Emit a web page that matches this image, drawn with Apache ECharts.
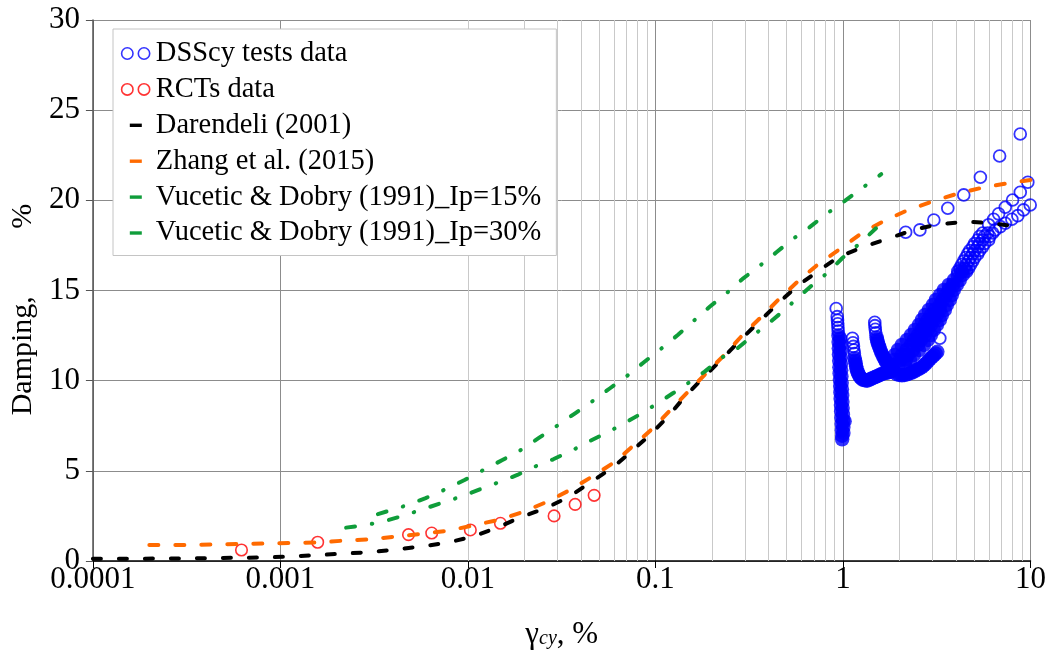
<!DOCTYPE html>
<html>
<head>
<meta charset="utf-8">
<script src="https://cdn.jsdelivr.net/npm/echarts@6/dist/echarts.min.js"></script>
<style>
html,body{margin:0;padding:0;background:#fff;}
#chart{width:1049px;height:655px;}
</style>
</head>
<body>
<div id="chart"></div>
<script>
// ---- data (x = shear strain gamma_cy in %, y = damping in %) ----
const xTickLabels = ['0.0001', '0.001', '0.01', '0.1', '1', '10'];
const yTickMin = 0, yTickMax = 30, yTickStep = 5;
const minorGridX = [
  0.0002, 0.0003, 0.0004, 0.0005, 0.0006, 0.0007, 0.0008, 0.0009,
  0.002, 0.003, 0.004, 0.005, 0.006, 0.007, 0.008, 0.009,
  0.02, 0.03, 0.04, 0.05, 0.06, 0.07, 0.08, 0.09,
  0.2, 0.3, 0.4, 0.5, 0.6, 0.7, 0.8, 0.9,
  2, 3, 4, 5, 6, 7, 8, 9
];

const darendeli = [
  [0.0001,0.13],[0.000176,0.13],[0.000316,0.14],[0.000439,0.16],[0.000604,0.18],[0.000841,0.2],
  [0.00117,0.26],[0.00159,0.33],[0.00216,0.41],[0.00293,0.48],[0.00412,0.63],[0.0056,0.8],
  [0.00779,1.02],[0.01058,1.35],[0.01437,1.85],[0.01904,2.42],[0.02585,2.92],[0.03424,3.53],
  [0.04481,4.34],[0.05937,5.2],[0.07584,6.15],[0.09337,6.99],[0.1164,8.0],[0.1433,9.11],
  [0.1764,10.08],[0.2281,11.24],[0.2773,12.16],[0.35,13.18],[0.4416,14.2],[0.5641,15.21],
  [0.7294,16.04],[0.9546,16.88],[1.296,17.43],[1.76,17.9],[2.449,18.4],[3.245,18.67],
  [4.515,18.82],[6.206,18.73],[8.636,18.54],[9.18,18.5]
];

const zhang = [
  [0.0002,0.89],[0.000304,0.89],[0.000439,0.92],[0.000604,0.94],[0.000841,0.98],[0.00114,1.0],
  [0.00159,1.03],[0.00218,1.13],[0.00296,1.2],[0.00412,1.35],[0.0056,1.5],[0.00779,1.68],
  [0.01058,1.96],[0.01437,2.27],[0.0195,2.7],[0.02649,3.29],[0.0351,3.94],[0.04593,4.68],
  [0.06085,5.5],[0.09687,7.36],[0.1193,8.34],[0.1523,9.48],[0.1898,10.5],[0.2395,11.55],
  [0.2913,12.53],[0.3721,13.6],[0.4694,14.66],[0.5853,15.58],[0.7471,16.51],[0.978,17.34],
  [1.265,18.2],[1.696,18.91],[2.167,19.41],[2.979,19.93],[4.144,20.39],[5.627,20.72],
  [7.641,20.95],[10,21.13]
];

const vucetic15 = [
  [0.00331,2.6],[0.00466,3.07],[0.00595,3.49],[0.0076,3.98],[0.00959,4.49],[0.0121,5.05],
  [0.01527,5.6],[0.0195,6.2],[0.024,6.84],[0.02993,7.5],[0.03729,8.19],[0.04649,8.89],
  [0.05725,9.58],[0.07047,10.26],[0.08678,11.02],[0.1068,11.76],[0.1315,12.53],[0.158,13.27],
  [0.1946,14.1],[0.2395,14.85],[0.2913,15.64],[0.3587,16.36],[0.4416,17.12],[0.5372,17.84],
  [0.6695,18.54],[0.8241,19.28],[1.027,19.98],[1.296,20.76],[1.6,21.45]
];

const vucetic30 = [
  [0.00224,1.85],[0.002857,2.0],[0.00352,2.18],[0.00466,2.55],[0.00574,2.87],[0.00715,3.2],
  [0.00936,3.6],[0.01138,3.94],[0.01437,4.34],[0.01834,4.77],[0.02232,5.2],[0.0285,5.64],
  [0.03639,6.16],[0.04319,6.58],[0.05254,7.01],[0.06467,7.5],[0.08161,8.1],[0.09926,8.65],
  [0.1238,9.3],[0.1505,9.89],[0.183,10.5],[0.2281,11.3],[0.2741,11.8],[0.3252,12.44],
  [0.4053,13.22],[0.4812,13.87],[0.571,14.57],[0.7031,15.4],[0.8344,16.01],[0.99,16.79],
  [1.219,17.58],[1.5,18.45]
];

const rctData = [
  [0.00062,0.61],[0.00158,1.04],[0.00482,1.46],[0.00641,1.55],[0.0103,1.72],
  [0.0149,2.09],[0.0288,2.5],[0.0373,3.14],[0.0471,3.64]
];

// DSScy points that show as separate rings
const dssOpen = [
  [0.92,14.0],[0.932,13.55],[0.935,13.35],[0.938,13.15],[0.94,12.95],[0.943,12.75],
  [1.123,12.35],[1.13,12.1],[1.137,11.9],[1.143,11.7],[1.15,11.5],
  [1.477,13.24],[1.48,13.05],[1.487,12.85],[1.495,12.65],
  [3.285,12.35],
  [2.159,18.23],[2.572,18.36],[3.052,18.91],[3.622,19.56],[4.406,20.3],[5.404,21.28],[6.844,22.46],[8.818,23.68],
  [4.094,16.06],[4.325,16.06],[4.569,16.06],
  [4.196,16.25],[4.461,16.25],[4.684,16.25],
  [4.299,16.44],[4.543,16.44],[4.8,16.44],
  [4.406,16.64],[4.684,16.64],[4.921,16.64],
  [4.515,16.83],[4.771,16.83],[5.04,16.83],
  [4.626,17.03],[4.921,17.03],[5.229,17.03],
  [4.742,17.22],[5.04,17.22],[5.358,17.22],
  [4.921,17.42],[5.229,17.42],[5.559,17.42],
  [5.04,17.61],[5.358,17.61],[5.695,17.61],
  [5.229,17.8],[5.559,17.8],[5.982,17.8],
  [5.358,18.0],[5.695,18.0],[6.056,18.0],
  [5.559,18.19],[5.909,18.19],[6.283,18.19],
  [5.982,18.65],[6.36,18.95],[6.761,19.25],[7.339,19.62],[8.024,20.02],[8.818,20.45],[9.676,21.0],
  [6.494,18.36],[6.902,18.54],[7.339,18.73],[7.955,18.95],[8.56,19.15],[9.18,19.47],[9.963,19.74]
];

// DSScy points packed so tightly that they merge into solid blue
const dssDense = [
  [0.946,12.5],[0.948,12.15],[0.95,11.8],[0.952,11.45],[0.955,11.1],[0.957,10.75],[0.96,10.4],
  [0.963,10.05],[0.966,9.7],[0.969,9.35],[0.972,9.0],[0.975,8.65],[0.978,8.3],[0.981,7.95],
  [0.984,7.6],[0.987,7.25],[0.99,6.95],[0.99,6.75],[1.02,7.75],
  [0.966,12.33],[0.968,11.98],[0.97,11.63],[0.973,11.28],[0.975,10.93],[0.978,10.58],[0.981,10.23],
  [0.984,9.88],[0.987,9.53],[0.99,9.18],[0.993,8.83],[0.996,8.48],[0.999,8.13],[1.002,7.78],
  [1.005,7.43],[1.005,7.1],
  [1.154,11.25],[1.168,10.95],[1.182,10.65],[1.204,10.4],[1.234,10.2],[1.28,10.05],[1.345,10.0],
  [1.412,10.1],[1.483,10.2],[1.557,10.3],[1.636,10.4],[1.718,10.45],[1.804,10.5],
  [1.161,11.1],[1.175,10.8],[1.193,10.52],[1.219,10.3],[1.257,10.12],[1.312,10.02],[1.378,10.05],
  [1.447,10.15],[1.52,10.25],[1.596,10.35],[1.677,10.42],[1.76,10.48],
  [1.51,12.4],[1.529,12.15],[1.557,11.9],[1.596,11.6],[1.646,11.3],[1.696,11.05],[1.76,10.8],[1.848,10.6],
  [1.52,12.27],[1.543,12.02],[1.576,11.75],[1.62,11.45],[1.67,11.17],[1.728,10.92],[1.804,10.7],
  [1.941,10.35],[2.063,10.3],[2.193,10.35],[2.332,10.45],[2.479,10.6],[2.635,10.75],[2.767,10.95],
  [2.906,11.2],[3.052,11.4],[3.185,11.6],
  [2.0,10.32],[2.128,10.32],[2.262,10.4],[2.405,10.52],[2.557,10.67],[2.7,10.85],[2.836,11.07],
  [2.979,11.3],[3.12,11.5],
  [1.826,10.87],[1.977,10.87],[2.14,10.87],
  [1.869,11.15],[2.013,11.15],[2.167,11.15],[2.276,11.15],
  [1.89,11.43],[2.063,11.43],[2.221,11.43],[2.389,11.43],
  [1.96,11.7],[2.181,11.7],[2.36,11.7],[2.541,11.7],
  [2.06,11.98],[2.304,11.98],[2.509,11.98],[2.701,11.98],
  [2.193,12.26],[2.389,12.26],[2.603,12.26],[2.836,12.26],
  [2.304,12.53],[2.509,12.53],[2.734,12.53],[2.943,12.53],
  [2.419,12.81],[2.619,12.81],[2.836,12.81],[3.052,12.81],
  [2.541,13.09],[2.734,13.09],[2.943,13.09],[3.167,13.09],
  [2.635,13.37],[2.836,13.37],[3.052,13.37],[3.285,13.37],
  [2.734,13.64],[2.943,13.64],[3.167,13.64],[3.367,13.64],
  [2.871,13.92],[3.09,13.92],[3.285,13.92],[3.493,13.92],
  [3.016,14.2],[3.285,14.2],[3.579,14.2],
  [3.128,14.48],[3.407,14.48],[3.712,14.48],
  [3.285,14.75],[3.535,14.75],[3.804,14.75],
  [3.45,15.03],[3.667,15.03],[3.899,15.03],
  [3.667,15.31],[3.85,15.31],[4.045,15.31],
  [3.899,15.58],[4.196,15.58],
  [4.094,15.86],[4.352,15.86],
  [4.246,16.14],[4.515,16.14]
];

// ---- chart ----
const FONT = "'Liberation Serif', 'Times New Roman', serif";
const BLUE = '#0000ff', RED = '#ff0000', BLACK = '#000000', ORANGE = '#ff6a00', GREEN = '#0f9d3a';
const twoCircles = 'path://M0,0M30,13M0.8,6.5a5.7,5.7 0 1,0 11.4,0a5.7,5.7 0 1,0 -11.4,0M17.5,6.5a5.7,5.7 0 1,0 11.4,0a5.7,5.7 0 1,0 -11.4,0';
const dashIcon = 'path://M0,0M30,13M9,4.8h12v3.4h-12z';

const chart = echarts.init(document.getElementById('chart'), null, {renderer: 'canvas'});

function lineSeries(name, data, color, dash) {
  return {
    name: name, type: 'line', data: data, showSymbol: false, symbol: 'none', smooth: false,
    itemStyle: {color: color},
    lineStyle: {color: color, width: 4, type: dash, cap: 'round', join: 'round'},
    z: 3, silent: true
  };
}

chart.setOption({
  animation: false,
  backgroundColor: '#ffffff',
  grid: {left: 91, right: 17, top: 20, bottom: 94, containLabel: false},
  legend: {
    orient: 'vertical', left: 113, top: 29,
    backgroundColor: '#ffffff', borderColor: '#c4c4c4', borderWidth: 1,
    padding: [10, 15, 8, 7],
    itemWidth: 30, itemHeight: 13, itemGap: 6.9,
    textStyle: {fontFamily: FONT, fontSize: 28.5, color: '#000'},
    selectedMode: false,
    data: [
      {name: 'DSScy tests data', icon: twoCircles, itemStyle: {color: 'rgba(0,0,0,0)', borderColor: BLUE, borderWidth: 1.6}},
      {name: 'RCTs data', icon: twoCircles, itemStyle: {color: 'rgba(0,0,0,0)', borderColor: RED, borderWidth: 1.6}},
      {name: 'Darendeli (2001)', icon: dashIcon, itemStyle: {color: BLACK, borderWidth: 0}},
      {name: 'Zhang et al. (2015)', icon: dashIcon, itemStyle: {color: ORANGE, borderWidth: 0}},
      {name: 'Vucetic & Dobry (1991)_Ip=15%', icon: dashIcon, itemStyle: {color: GREEN, borderWidth: 0}},
      {name: 'Vucetic & Dobry (1991)_Ip=30%', icon: dashIcon, itemStyle: {color: GREEN, borderWidth: 0}}
    ]
  },
  xAxis: {
    type: 'log', logBase: 10, min: 0.0001, max: 10,
    name: '{a|γ}{b|cy}{a|, %}', nameLocation: 'middle', nameGap: 58,
    nameTextStyle: {
      rich: {
        a: {fontFamily: FONT, fontSize: 31, lineHeight: 30, color: '#000', verticalAlign: 'top'},
        b: {fontFamily: FONT, fontSize: 20, lineHeight: 20, fontStyle: 'italic', color: '#000', verticalAlign: 'bottom', padding: [16, 0, 0, 0]}
      }
    },
    axisLine: {show: true, onZero: false, lineStyle: {color: '#000', width: 1.5}},
    axisTick: {show: true, length: 7, lineStyle: {color: '#000', width: 1}},
    axisLabel: {
      fontFamily: FONT, fontSize: 31, color: '#000', margin: 3,
      formatter: function (v) {
        for (let i = 0; i < xTickLabels.length; i++) {
          if (Math.abs(Math.log10(v) - Math.log10(parseFloat(xTickLabels[i]))) < 1e-6) return xTickLabels[i];
        }
        return '';
      }
    },
    splitLine: {show: true, lineStyle: {color: '#8c8c8c', width: 1}},
    minorTick: {show: false}, minorSplitLine: {show: false}
  },
  yAxis: {
    type: 'value', min: yTickMin, max: yTickMax, interval: yTickStep,
    name: 'Damping,         %', nameLocation: 'middle', nameGap: 50, nameRotate: 90,
    nameTextStyle: {fontFamily: FONT, fontSize: 30, color: '#000', padding: [0, 38, 0, 0]},
    axisLine: {show: true, lineStyle: {color: '#555', width: 1.5}},
    axisTick: {show: true, length: 7, lineStyle: {color: '#555', width: 1}},
    axisLabel: {fontFamily: FONT, fontSize: 31, color: '#000', margin: 13},
    splitLine: {show: true, lineStyle: {color: '#8c8c8c', width: 1}}
  },
  series: [
    {
      name: 'minor grid', type: 'line', data: [], silent: true,
      markLine: {
        silent: true, z: 1, animation: false, symbol: ['none', 'none'],
        label: {show: false},
        lineStyle: {color: '#c9c9c9', width: 1, type: 'solid'},
        emphasis: {disabled: true},
        data: minorGridX.map(function (v) { return {xAxis: v}; })
      }
    },
    {
      name: 'DSScy tests data', type: 'scatter', data: dssDense, symbol: 'circle', symbolSize: 14.5,
      itemStyle: {color: BLUE}, silent: true, z: 2
    },
    {
      name: 'DSScy tests data', type: 'scatter', data: dssOpen, symbol: 'circle', symbolSize: 11.8,
      itemStyle: {color: 'rgba(0,0,0,0)', borderColor: BLUE, borderWidth: 1.8}, silent: true, z: 2
    },
    {
      name: 'RCTs data', type: 'scatter', data: rctData, symbol: 'circle', symbolSize: 11.5,
      itemStyle: {color: 'rgba(0,0,0,0)', borderColor: RED, borderWidth: 1.6}, silent: true, z: 2
    },
    lineSeries('Darendeli (2001)', darendeli, BLACK, [8, 18]),
    lineSeries('Zhang et al. (2015)', zhang, ORANGE, [9, 17]),
    lineSeries('Vucetic & Dobry (1991)_Ip=15%', vucetic15, GREEN, [9, 17, 0.5, 17]),
    lineSeries('Vucetic & Dobry (1991)_Ip=30%', vucetic30, GREEN, [9, 17, 0.5, 17])
  ]
});
</script>
</body>
</html>
